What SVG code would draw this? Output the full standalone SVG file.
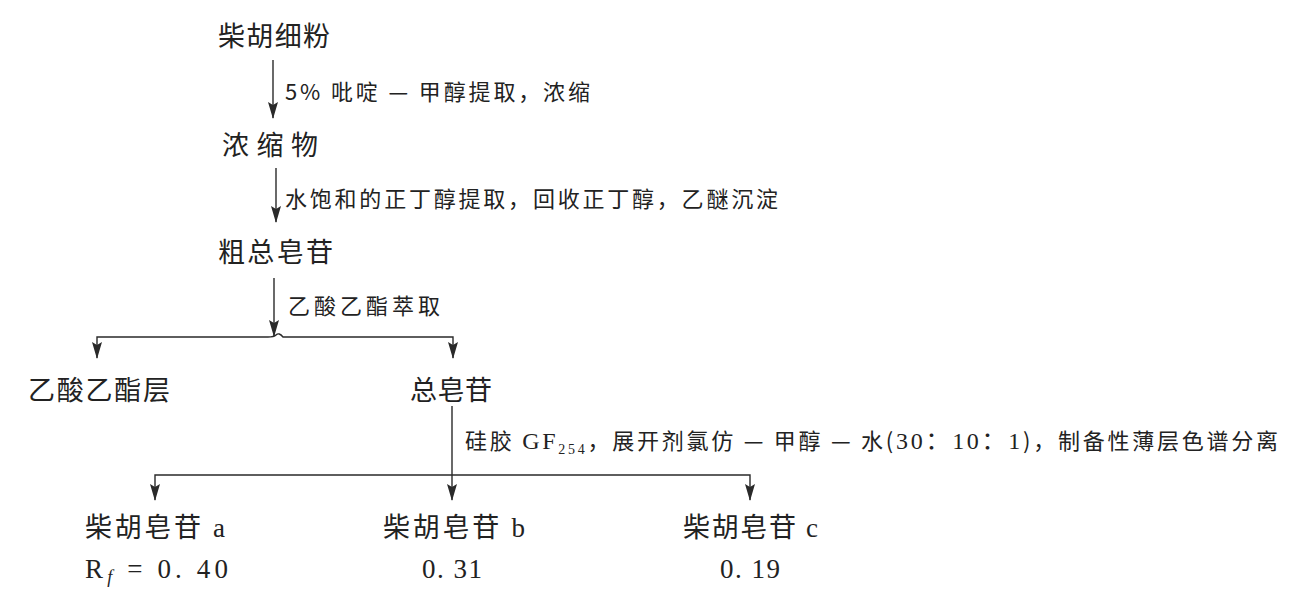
<svg xmlns="http://www.w3.org/2000/svg" width="1306" height="610" viewBox="0 0 1306 610">
<style>
.n{font-family:"Noto Sans CJK SC","Noto Sans",sans-serif;fill:#222;font-size:27px}
.l{font-family:"Noto Sans CJK SC","Noto Sans",sans-serif;fill:#222;font-size:22px}
.s{font-family:"Liberation Serif","Noto Sans CJK SC",serif}
.c{stroke:#2a2a2a;stroke-width:1.4;fill:none}
</style>
<defs>
<marker id="dn" markerUnits="userSpaceOnUse" markerWidth="10" markerHeight="18" refX="5" refY="17" viewBox="0 0 10 18" orient="0">
<path d="M0,1 L5,4 L10,1 L5,18 Z" fill="#2a2a2a"/>
</marker>
</defs>
<rect width="1306" height="610" fill="#fff"/>
<g id="connectors">
<line class="c" x1="273" y1="60" x2="273" y2="118" marker-end="url(#dn)"/>
<line class="c" x1="276" y1="168" x2="276" y2="222" marker-end="url(#dn)"/>
<line class="c" x1="274" y1="278" x2="274" y2="336" marker-end="url(#dn)"/>
<path class="c" d="M97,358 V337 H268 Q274,337 276,335 Q279,332 283,337 H453 V358" marker-start="url(#dn)" marker-end="url(#dn)"/>
<line class="c" x1="452" y1="406" x2="452" y2="500" marker-end="url(#dn)"/>
<path class="c" d="M155,500 V475 H750 V500" marker-start="url(#dn)" marker-end="url(#dn)"/>
</g>
<g id="n1"><text class="n" x="218" y="46" textLength="112">柴胡细粉</text></g>
<g id="l1"><text class="l" x="285" y="100" textLength="305">5% 吡啶 — 甲醇提取，浓缩</text></g>
<g id="n2"><text class="n" x="222" y="155" textLength="96">浓缩物</text></g>
<g id="l2"><text class="l" x="285" y="207" textLength="493">水饱和的正丁醇提取，回收正丁醇，乙醚沉淀</text></g>
<g id="n3"><text class="n" x="218" y="262" textLength="115">粗总皂苷</text></g>
<g id="l3"><text class="l" x="288" y="314" textLength="152">乙酸乙酯萃取</text></g>
<g id="n4"><text class="n" x="28" y="400" textLength="142">乙酸乙酯层</text></g>
<g id="n5"><text class="n" x="410" y="400" textLength="82">总皂苷</text></g>
<g id="l4"><text class="l" x="465" y="449" font-size="22" textLength="813">硅胶 <tspan class="s" font-size="24">GF</tspan><tspan class="s" font-size="14" dy="5">254</tspan><tspan dy="-5">，展开剂氯仿 — 甲醇 — 水(</tspan><tspan class="s" font-size="24">30：10：1</tspan>)，制备性薄层色谱分离</text></g>
<g id="n6"><text class="n" x="85" y="537" font-size="28" textLength="140">柴胡皂苷<tspan class="s"> a</tspan></text><text class="n s" x="85" y="578" font-size="30" textLength="143">R<tspan font-size="18" dy="5" font-style="italic">f</tspan><tspan dy="-5"> = 0. 40</tspan></text></g>
<g id="n7"><text class="n" x="383" y="537" font-size="28" textLength="142">柴胡皂苷<tspan class="s"> b</tspan></text><text class="n s" x="422" y="578" font-size="30" textLength="60">0. 31</text></g>
<g id="n8"><text class="n" x="683" y="537" font-size="28" textLength="135">柴胡皂苷<tspan class="s"> c</tspan></text><text class="n s" x="720" y="578" font-size="30" textLength="60">0. 19</text></g>
</svg>
